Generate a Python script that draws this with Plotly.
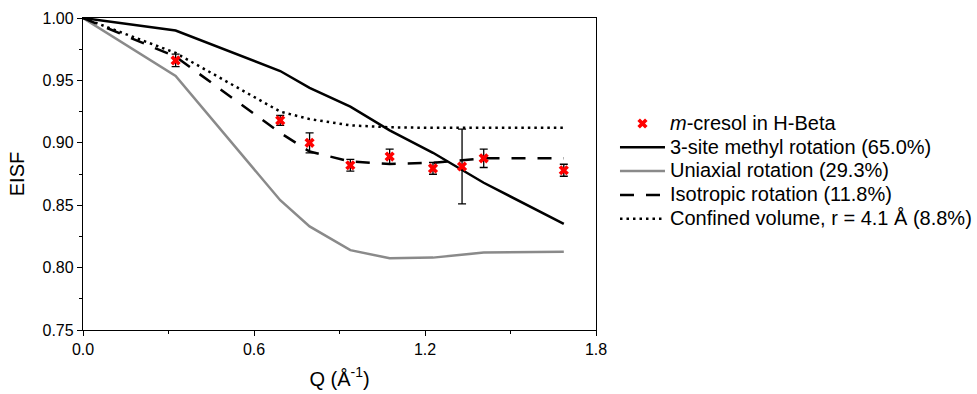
import plotly.graph_objects as go

# Data points (m-cresol in H-Beta)
q_data = [0.325, 0.692, 0.795, 0.938, 1.076, 1.228, 1.330, 1.406, 1.687]
eisf_data = [0.966, 0.918, 0.900, 0.882, 0.889, 0.8795, 0.881, 0.8876, 0.878]
eisf_err = [0.005, 0.004, 0.008, 0.0047, 0.006, 0.0047, 0.030, 0.0074, 0.0048]

# Model curves
q_model = [0.0, 0.325, 0.692, 0.795, 0.938, 1.076, 1.228, 1.330, 1.406, 1.687]
methyl = [1.000, 0.990, 0.9575, 0.944, 0.929, 0.910, 0.892, 0.878, 0.868, 0.835]
uniaxial = [1.000, 0.9535, 0.854, 0.833, 0.814, 0.8075, 0.808, 0.810, 0.812, 0.8128]
isotropic = [1.000, 0.969, 0.908, 0.893, 0.885, 0.883, 0.884, 0.886, 0.8876, 0.8876]
confined = [1.000, 0.972, 0.925, 0.919, 0.914, 0.9124, 0.912, 0.912, 0.912, 0.912]

names = ["3-site methyl rotation (65.0%)", "Uniaxial rotation (29.3%)",
         "Isotropic rotation (11.8%)", "Confined volume, r = 4.1 Å (8.8%)"]
data_name = "<i>m</i>-cresol in H-Beta"

FONT = "Liberation Sans"


def big(txt):
    return '<span style="font-size:20px">' + txt + '</span>'


fig = go.Figure()
fig.add_trace(go.Scatter(x=q_model, y=methyl, mode="lines", name=big(names[0]),
                         line=dict(color="black", width=2.5), legendrank=2))
fig.add_trace(go.Scatter(x=q_model, y=uniaxial, mode="lines", name=big(names[1]),
                         line=dict(color="#8a8a8a", width=2.5), legendrank=3))
fig.add_trace(go.Scatter(x=q_model, y=isotropic, mode="lines", name=big(names[2]),
                         line=dict(color="black", width=2.5, dash="14px,12px"), legendrank=4))
fig.add_trace(go.Scatter(x=q_model, y=confined, mode="lines", name=big(names[3]),
                         line=dict(color="black", width=2.5, dash="2.5px,4px"), legendrank=5))
fig.add_trace(go.Scatter(x=q_data, y=eisf_data, mode="markers", name=big(data_name),
                         marker=dict(symbol="x", size=9, color="red", line=dict(width=0)),
                         error_y=dict(type="data", array=eisf_err, color="black", thickness=1.3, width=4),
                         legendrank=1))

axis_common = dict(showline=True, linecolor="black", linewidth=1.3, mirror=True,
                   ticks="outside", ticklen=5, tickwidth=1.3, tickcolor="black",
                   showgrid=False, zeroline=False,
                   tickfont=dict(family=FONT, size=16, color="black"))

fig.update_xaxes(range=[0, 1.8], tickvals=[0.0, 0.6, 1.2, 1.8], tickformat=".1f",
                 minor=dict(tickvals=[0.3, 0.9, 1.5], ticks="outside", ticklen=3, tickwidth=1.3, tickcolor="black"),
                 title=dict(text="Q (Å<sup>-1</sup>)", font=dict(family=FONT, size=20, color="black"), standoff=14),
                 **axis_common)
fig.update_yaxes(range=[0.75, 1.0], tickvals=[0.75, 0.80, 0.85, 0.90, 0.95, 1.00], tickformat=".2f",
                 minor=dict(tickvals=[0.775, 0.825, 0.875, 0.925, 0.975], ticks="outside", ticklen=3, tickwidth=1.3, tickcolor="black"),
                 title=dict(text="EISF", font=dict(family=FONT, size=20, color="black"), standoff=12),
                 **axis_common)

fig.update_layout(
    width=977, height=394,
    margin=dict(l=83, r=381, t=18, b=64, autoexpand=False),
    paper_bgcolor="white", plot_bgcolor="white",
    font=dict(family=FONT, size=16, color="black"),
    showlegend=True,
    legend=dict(x=1.037, y=0.716, xanchor="left", yanchor="top",
                font=dict(family=FONT, size=16, color="black"),
                tracegroupgap=0, itemwidth=45, bgcolor="rgba(0,0,0,0)"),
)

fig.write_html("out.html")
